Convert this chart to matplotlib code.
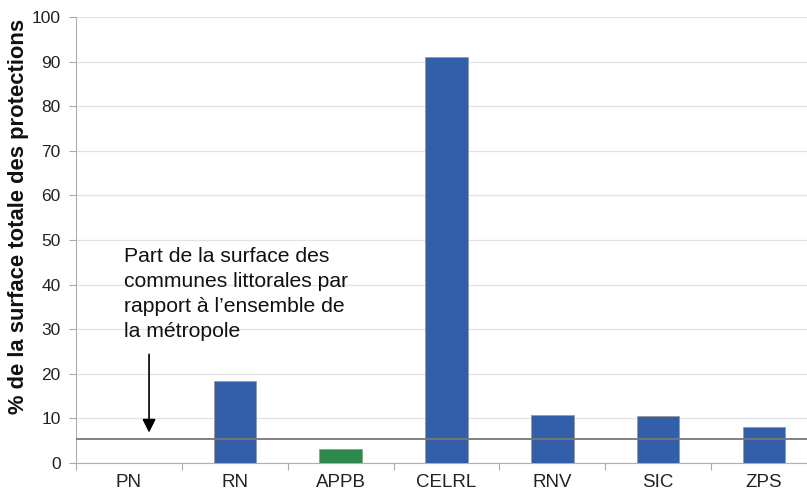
import matplotlib
matplotlib.use("Agg")
import matplotlib.pyplot as plt
import numpy as np

categories = ["PN", "RN", "APPB", "CELRL", "RNV", "SIC", "ZPS"]
values = [0.1, 18.4, 3.1, 91.0, 10.8, 10.5, 8.1]
colors = ["#335EA9", "#335EA9", "#2E8A4C", "#335EA9", "#335EA9", "#335EA9", "#335EA9"]
reference_line = 5.3
yticks = [0, 10, 20, 30, 40, 50, 60, 70, 80, 90, 100]

plt.rcParams['font.family'] = ['Liberation Sans', 'DejaVu Sans']

fig = plt.figure(figsize=(8.07, 4.92), dpi=100)
ax = fig.add_axes([76/807, 1-463/492, (817-76)/807, (463-17)/492])

x = np.arange(len(categories))
ax.bar(x, values, width=0.4, color=colors, edgecolor="#9a9a9a", linewidth=0.6, zorder=3)
ax.axhline(reference_line, color="#777777", linewidth=1.3, zorder=4)

ax.set_xlim(-0.5, 6.5)
ax.set_ylim(0, 100)
ax.set_yticks(yticks)
ax.set_yticklabels([str(v) for v in yticks], fontsize=12.5, color="#222222")
ax.set_xticks(x)
ax.set_xticklabels(categories, fontsize=13.5, color="#222222")
ax.set_xticks(np.arange(-0.5, 7.0, 1.0), minor=True)
ax.tick_params(axis='x', which='major', length=0, pad=8)
ax.tick_params(axis='x', which='minor', length=5, color="#aaaaaa", width=0.8)
ax.tick_params(axis='y', length=5, color="#aaaaaa", width=0.8, pad=6)

ax.grid(axis='y', color="#e3e3e3", linewidth=0.9, zorder=0)
ax.set_axisbelow(True)
for s in ["top", "right"]:
    ax.spines[s].set_visible(False)
for s in ["left", "bottom"]:
    ax.spines[s].set_color("#b0b0b0")
    ax.spines[s].set_linewidth(0.8)

ax.set_ylabel("% de la surface totale des protections", fontsize=15.8, fontweight='bold', color="#111111")
ax.yaxis.set_label_coords((29 - 76) / 741, (463 - 216) / 446)

ax.text(-0.05, 48.5, "Part de la surface des\ncommunes littorales par\nrapport à l\u2019ensemble de\nla métropole",
        fontsize=15.2, ha='left', va='top', linespacing=1.4, zorder=5, color="#111111")
ax.annotate("", xy=(0.19, 6.2), xytext=(0.19, 25.0),
            arrowprops=dict(arrowstyle="-|>", color="black", lw=1.2, mutation_scale=20), zorder=5)

fig.savefig("out.png", dpi=100)
